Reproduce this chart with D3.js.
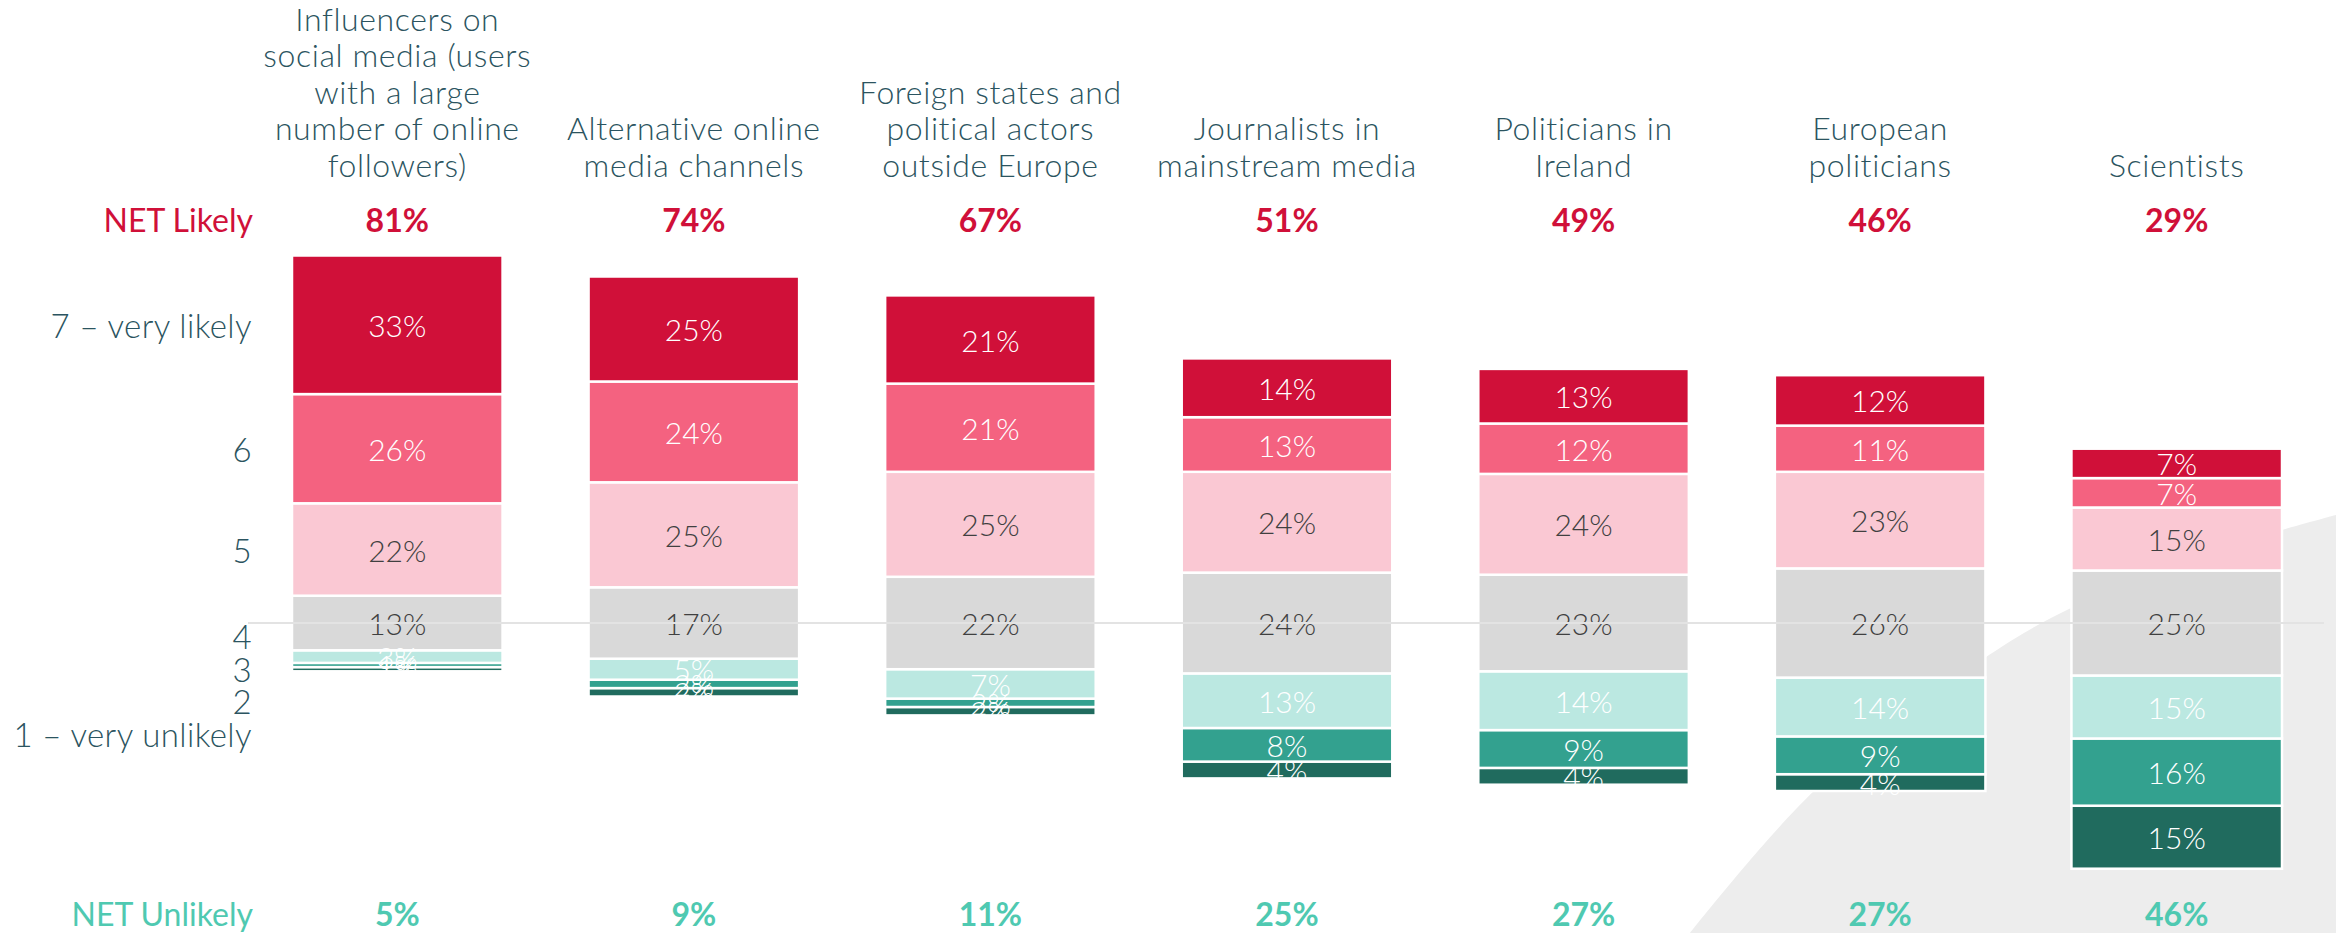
<!DOCTYPE html>
<html lang="en">
<head>
  <meta charset="UTF-8">
  <title>Likely sources of disinformation</title>
  <script src="https://cdn.jsdelivr.net/npm/d3@7"></script>
  <style>
    body { margin: 0; background: #fff; }
    svg { display: block; font-family: Lato, "Open Sans", sans-serif; }
  </style>
</head>
<body>
  <svg></svg>
  <script>
    const width = 2336;
    const height = 933;

    // categories (label lines)
    const categories = [
      ["Influencers on", "social media (users", "with a large", "number of online", "followers)"],
      ["Alternative online", "media channels"],
      ["Foreign states and", "political actors", "outside Europe"],
      ["Journalists in", "mainstream media"],
      ["Politicians in", "Ireland"],
      ["European", "politicians"],
      ["Scientists"]
    ];
    // answers from 1 (very unlikely) to 7 (very likely)
    const levels = ["1 – very unlikely", "2", "3", "4", "5", "6", "7 – very likely"];
    const level1 = [1, 2, 2, 4, 4, 4, 15];
    const level2 = [1, 2, 2, 8, 9, 9, 16];
    const level3 = [3, 5, 7, 13, 14, 14, 15];
    const level4 = [13, 17, 22, 24, 23, 26, 25];
    const level5 = [22, 25, 25, 24, 24, 23, 15];
    const level6 = [26, 24, 21, 13, 12, 11, 7];
    const level7 = [33, 25, 21, 14, 13, 12, 7];
    const netLikely = [81, 74, 67, 51, 49, 46, 29];
    const netUnlikely = [5, 9, 11, 25, 27, 27, 46];

    const levelColors = ["#206B5E", "#33A18F", "#BBE8E1", "#D9D9D9", "#FAC8D3", "#F46280", "#D01039"];
    const labelColors = ["#fff", "#fff", "#fff", "#404040", "#404040", "#fff", "#fff"];
    const slate = "#2B5460";

    const series = [level1, level2, level3, level4, level5, level6, level7];
    const keys = categories.map((c, i) => i);

    const svg = d3.select("svg").attr("width", width).attr("height", height);

    const centerY = 623;
    const x = d3.scaleBand().domain(keys).range([292, 2282]).paddingInner(0.29).paddingOuter(0);
    const y = d3.scaleLinear().domain([-50, 50]).range([centerY + 210, centerY - 210]);

    // decorative background swoosh
    const swoosh = [[1690, 933], [1815, 790], [1989, 655], [2071, 608], [2200, 555], [2336, 515]];
    svg.append("path")
      .attr("d", d3.line().curve(d3.curveCatmullRom)(swoosh) + `L${width},${height}Z`)
      .attr("fill", "#EDEDED");

    // stacked segments, diverging around the middle of the neutral answer
    const segs = [];
    keys.forEach(i => {
      let start = -(level1[i] + level2[i] + level3[i]) - level4[i] / 2;
      series.forEach((s, l) => {
        segs.push({ cat: i, level: l, v: s[i], y0: start, y1: start + s[i] });
        start += s[i];
      });
    });

    const g = svg.append("g");
    g.selectAll("rect").data(segs).enter().append("rect")
      .attr("x", d => x(d.cat))
      .attr("width", x.bandwidth())
      .attr("y", d => y(d.y1))
      .attr("height", d => y(d.y0) - y(d.y1))
      .attr("fill", d => levelColors[d.level])
      .attr("stroke", "#fff")
      .attr("stroke-width", 2.5);

    // middle reference line
    svg.append("line")
      .attr("x1", 248).attr("x2", 2324)
      .attr("y1", y(0)).attr("y2", y(0))
      .attr("stroke", "#E3E3E3")
      .attr("stroke-width", 2);

    g.selectAll("text").data(segs).enter().append("text")
      .attr("x", d => x(d.cat) + x.bandwidth() / 2)
      .attr("y", d => y((d.y0 + d.y1) / 2))
      .attr("text-anchor", "middle")
      .attr("dominant-baseline", "central")
      .attr("fill", d => labelColors[d.level])
      .style("font-size", "30px")
      .style("font-weight", 300)
      .text(d => d.v + "%");

    // category headers, bottom aligned
    const lineH = 36.5;
    const head = svg.selectAll(".head").data(categories).enter().append("text")
      .attr("class", "head")
      .attr("text-anchor", "middle")
      .attr("fill", slate)
      .style("font-size", "32px")
      .style("letter-spacing", "0.6px")
      .style("font-weight", 300);
    head.selectAll("tspan").data((d, i) => d.map((t, k) => ({ t, k, n: d.length, i })))
      .enter().append("tspan")
      .attr("x", d => x(d.i) + x.bandwidth() / 2)
      .attr("y", d => 164 - (d.n - 1 - d.k) * lineH)
      .attr("dominant-baseline", "central")
      .text(d => d.t);

    // NET rows
    svg.append("text").attr("x", 253).attr("y", 219)
      .attr("text-anchor", "end").attr("dominant-baseline", "central")
      .attr("fill", "#D01039").style("font-size", "32px").text("NET Likely");
    svg.selectAll(".netL").data(netLikely).enter().append("text")
      .attr("x", (d, i) => x(i) + x.bandwidth() / 2).attr("y", 219)
      .attr("text-anchor", "middle").attr("dominant-baseline", "central")
      .attr("fill", "#D01039").style("font-size", "32px").style("font-weight", 700)
      .text(d => d + "%");

    svg.append("text").attr("x", 253).attr("y", 913)
      .attr("text-anchor", "end").attr("dominant-baseline", "central")
      .attr("fill", "#4FC9B1").style("font-size", "32px").text("NET Unlikely");
    svg.selectAll(".netU").data(netUnlikely).enter().append("text")
      .attr("x", (d, i) => x(i) + x.bandwidth() / 2).attr("y", 913)
      .attr("text-anchor", "middle").attr("dominant-baseline", "central")
      .attr("fill", "#4FC9B1").style("font-size", "32px").style("font-weight", 700)
      .text(d => d + "%");

    // answer scale labels on the left: top three follow the first bar, the small ones are spread out
    const first = segs.filter(d => d.cat === 0);
    const scaleLabelY = l => l >= 4
      ? y((first[l].y0 + first[l].y1) / 2)
      : centerY + 13 + (3 - l) * 32.7;
    svg.selectAll(".lvl").data(levels).enter().append("text")
      .attr("x", 252)
      .attr("y", (d, l) => scaleLabelY(l))
      .attr("text-anchor", "end").attr("dominant-baseline", "central")
      .attr("fill", slate).style("font-size", "33px").style("letter-spacing", "0.4px")
      .style("font-weight", 300)
      .text(d => d);
  </script>
</body>
</html>
